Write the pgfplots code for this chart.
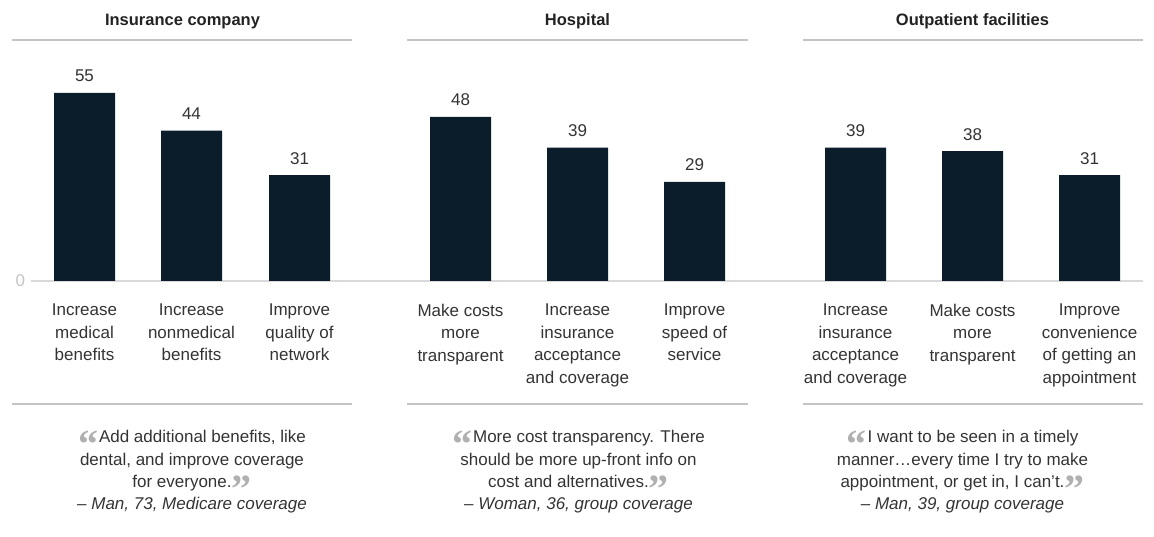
\documentclass[border=0pt]{standalone}
\usepackage{fontspec}
\setmainfont{Liberation Sans}
\newfontfamily\qfont{Liberation Serif}
\usepackage{pgfplots}
\pgfplotsset{compat=1.18}
\definecolor{barc}{HTML}{0B1C2B}
\definecolor{txt}{HTML}{333333}
\definecolor{ttl}{HTML}{222222}
\definecolor{sep}{HTML}{C4C4C4}
\definecolor{basec}{HTML}{D9D9D9}
\definecolor{qgray}{HTML}{B0B0B0}
\definecolor{zeroc}{HTML}{C4C4C4}
\newcommand\lfont{\fontsize{17}{22.5}\selectfont}
\newcommand\oq{\raisebox{-15pt}[0pt][0pt]{\color{qgray}\fontsize{40}{40}\qfont\bfseries “}\hspace{1pt}}
\newcommand\cq{\raisebox{-15pt}[0pt][0pt]{\color{qgray}\fontsize{40}{40}\qfont\bfseries ”}}
\begin{document}
\begin{tikzpicture}[x=1pt,y=1pt]
\path[use as bounding box] (0,0) rectangle (1154,537);
\begin{axis}[
  at={(31pt,256pt)}, anchor=south west,
  scale only axis, width=1112pt, height=241pt,
  xmin=31, xmax=1143, ymin=0, ymax=70.5,
  axis x line*=bottom, axis y line*=left,
  y axis line style={draw=none},
  x axis line style={draw=basec, line width=2pt},
  major tick length=0pt,
  /pgf/number format/assume math mode=true,
  ytick={0}, yticklabels={0},
  yticklabel style={text=zeroc, font=\lfont, xshift=-2.5pt},
  xtick={84.5,191.5,299.5,460.5,577.5,694.5,855.5,972.5,1089.5},
  xticklabels={{Increase\\medical\\benefits},{Increase\\nonmedical\\benefits},{Improve\\quality of\\network},
    {Make costs\\more\\transparent},{Increase\\insurance\\acceptance\\and coverage},{Improve\\speed of\\service},
    {Increase\\insurance\\acceptance\\and coverage},{Make costs\\more\\transparent},{Improve\\convenience\\of getting an\\appointment}},
  x tick label style={align=center, font=\lfont, text=txt, anchor=north, yshift=-19.5pt},
  ybar, bar width=61pt,
  nodes near coords,
  nodes near coords style={font=\lfont, text=txt, anchor=base, yshift=11pt},
  clip=false,
]
\addplot[fill=barc, draw=none] coordinates {(84.5,55) (191.5,44) (299.5,31) (460.5,48) (577.5,39) (694.5,29) (855.5,39) (972.5,38) (1089.5,31)};
\end{axis}
% titles
\begin{scope}[every node/.style={font=\bfseries\fontsize{16.5}{20}\selectfont, text=ttl, anchor=base}]
\node at (182.5,511) {Insurance company};
\node at (577.5,511) {Hospital};
\node at (972.5,511) {Outpatient facilities};
\end{scope}
% separators
\begin{scope}[draw=sep, line width=1.5pt]
\draw (12,497) -- (352,497);
\draw (407,497) -- (748,497);
\draw (803,497) -- (1143,497);
\draw (12,133) -- (352,133);
\draw (407,133) -- (748,133);
\draw (803,133) -- (1143,133);
\end{scope}
% quotes
\begin{scope}[every node/.style={font=\lfont, text=txt, anchor=base, inner sep=0pt}]
\node at (192,94) {\oq Add additional benefits, like};
\node at (192,71.5) {dental, and improve coverage};
\node at (192,49) {for everyone.\cq};
\node at (192,27) {\itshape – Man, 73, Medicare coverage};
\node at (578.5,94) {\oq More cost transparency. There};
\node at (578.5,71.5) {should be more up-front info on};
\node at (578.5,49) {cost and alternatives.\cq};
\node at (578.5,27) {\itshape – Woman, 36, group coverage};
\node at (962.5,94) {\oq I want to be seen in a timely};
\node at (962.5,71.5) {manner\ldots every time I try to make};
\node at (962.5,49) {appointment, or get in, I can’t.\cq};
\node at (962.5,27) {\itshape – Man, 39, group coverage};
\end{scope}
\end{tikzpicture}
\end{document}
